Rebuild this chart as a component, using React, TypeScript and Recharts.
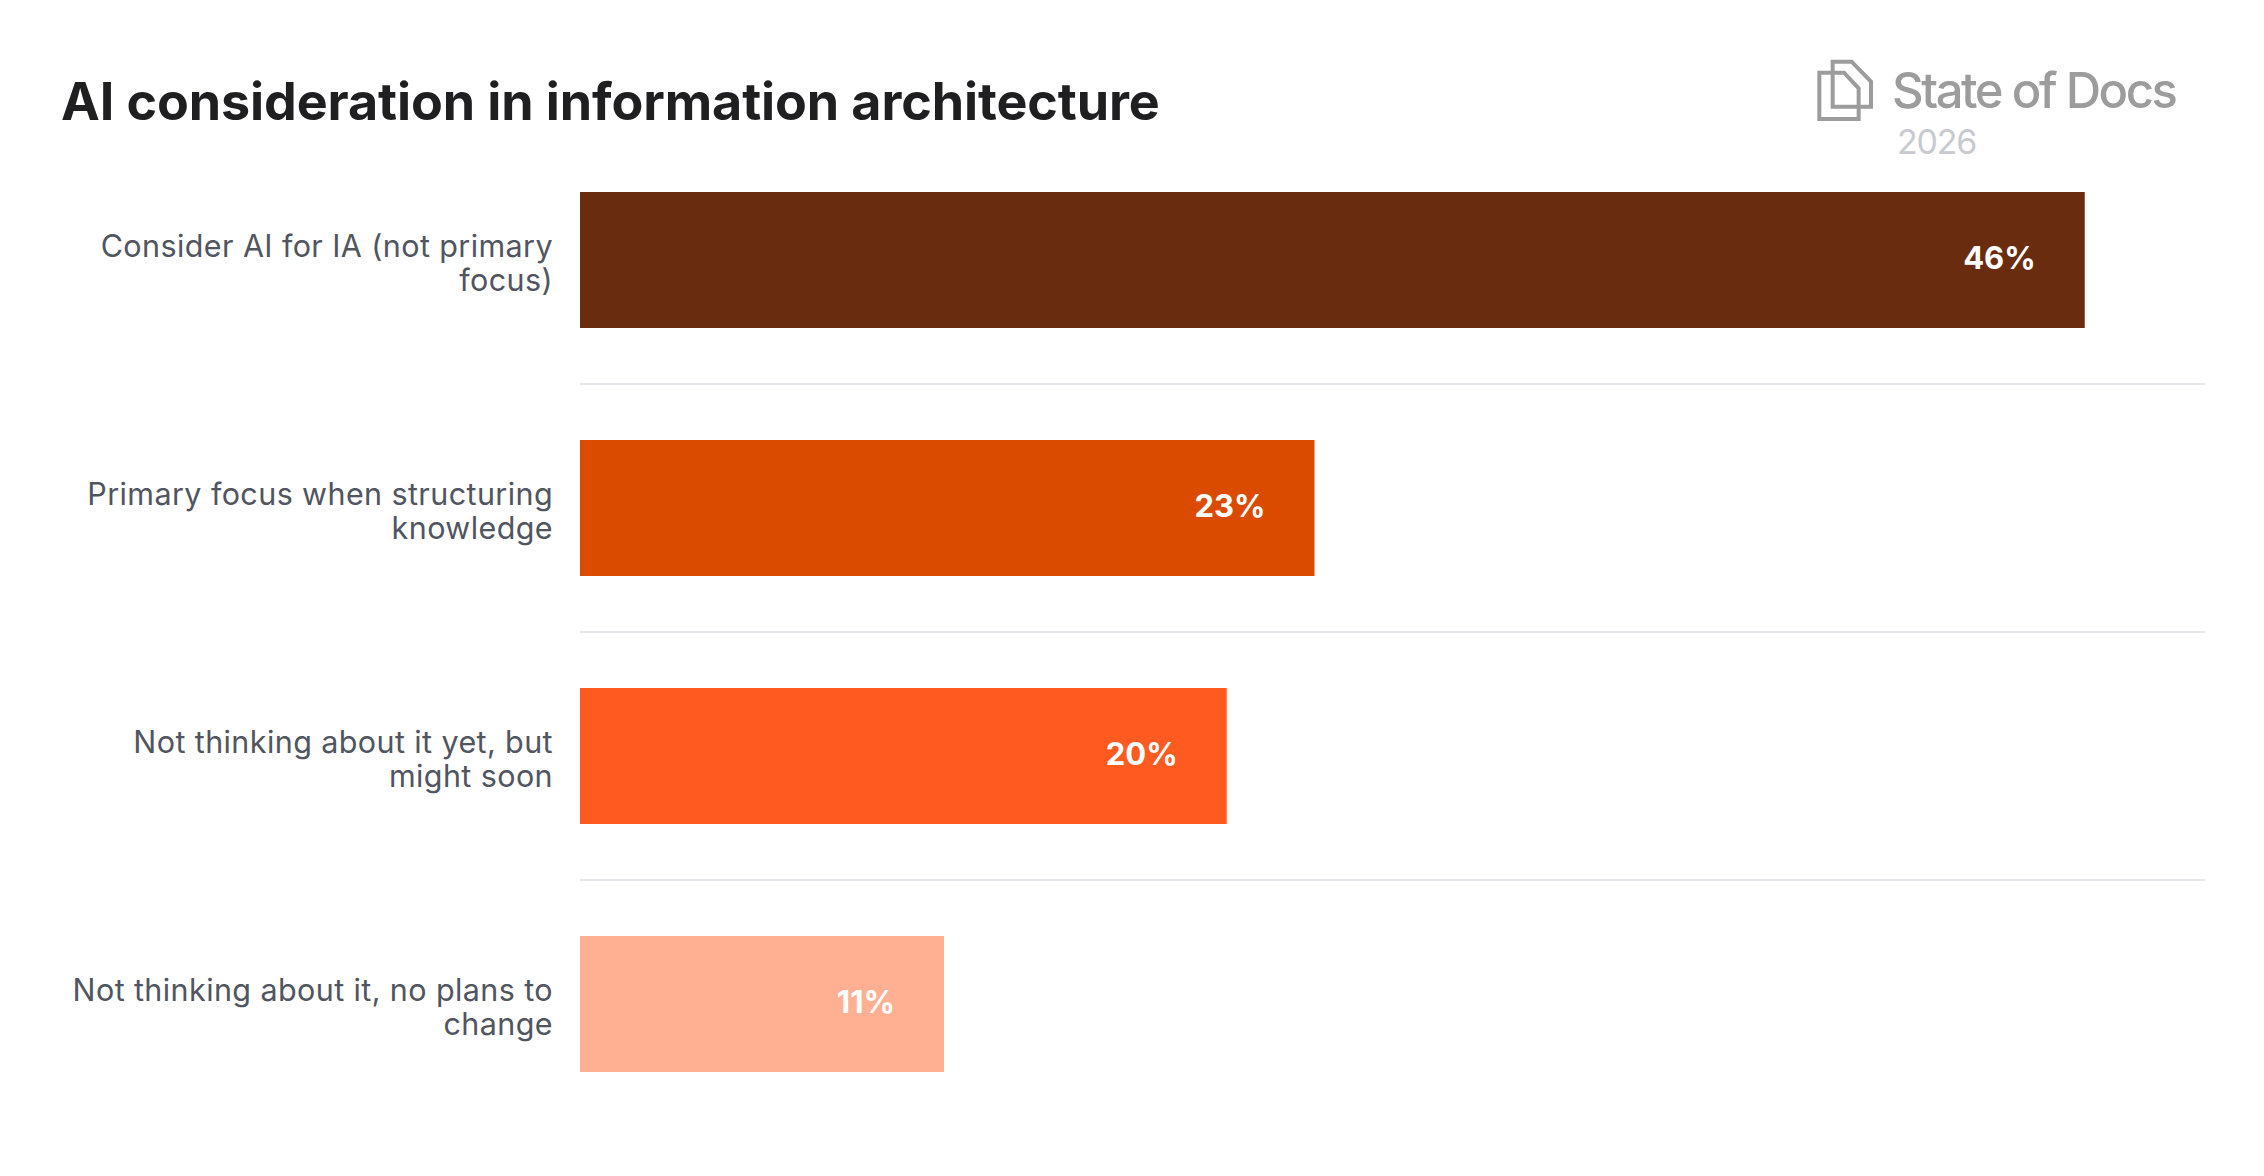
import React from "react";
import { BarChart, Bar, XAxis, YAxis, CartesianGrid, Cell, LabelList } from "recharts";

const categories = [
  "Consider AI for IA (not primary focus)",
  "Primary focus when structuring knowledge",
  "Not thinking about it yet, but might soon",
  "Not thinking about it, no plans to change",
];
const categoryLines = [
  ["Consider AI for IA (not primary", "focus)"],
  ["Primary focus when structuring", "knowledge"],
  ["Not thinking about it yet, but", "might soon"],
  ["Not thinking about it, no plans to", "change"],
];
const values = [46.3, 22.6, 19.9, 11.2];
const colors = ["#6a2c0f", "#da4b00", "#ff5a20", "#ffb092"];
const separators = [1, 2, 3];
const chartData = categories.map((name, i) => ({ name, value: values[i] }));
const FONT = "Inter, sans-serif";

const CategoryTick = (props: any) => {
  const { x, y, index } = props;
  return (
    <text x={x} y={y} textAnchor="end" fontFamily={FONT} fontSize={30.5} fill="#51555f" letterSpacing={0.4}>
      {categoryLines[index].map((line, i) => (
        <tspan key={i} x={x} y={y - 3 + i * 34}>
          {line}
        </tspan>
      ))}
    </text>
  );
};

const bandEdges = ({ offset }: any) =>
  separators.map((s) => offset.top + (s * offset.height) / categories.length);

export default function App() {
  return (
    <div style={{ position: "absolute", left: 0, top: 0, width: 2264, height: 1176, background: "#fff" }}>
      <BarChart
        width={2264}
        height={1176}
        data={chartData}
        layout="vertical"
        margin={{ top: 136, right: 59, bottom: 48, left: 0 }}
        barCategoryGap={56}
      >
        <CartesianGrid vertical={false} stroke="#e7e8ec" strokeWidth={2} horizontalCoordinatesGenerator={bandEdges} />
        <XAxis type="number" domain={[0, 50]} hide />
        <YAxis
          type="category"
          dataKey="name"
          width={580}
          axisLine={false}
          tickLine={false}
          tickMargin={0}
          tickSize={0}
          interval={0}
          tick={(p: any) => <CategoryTick {...p} x={553} />}
        />
        <Bar dataKey="value" isAnimationActive={false}>
          {chartData.map((d, i) => (
            <Cell key={d.name} fill={colors[i]} />
          ))}
          <LabelList
            dataKey="value"
            position="insideRight"
            offset={49}
            formatter={(v: any) => `${Math.round(v)}%`}
            fill="#ffffff"
            fontFamily={FONT}
            fontWeight={700}
            fontSize={31}
            dy={-2}
          />
        </Bar>
      </BarChart>
      <svg width={2264} height={1176} style={{ position: "absolute", left: 0, top: 0, pointerEvents: "none" }}>
        <text x={61} y={120} fontFamily={FONT} fontWeight={700} fontSize={52} fill="#1f1f21" letterSpacing={-0.1}>
          AI consideration in information architecture
        </text>
        <g transform="translate(1780 30) scale(0.3333)" fill="none" stroke="#9c9c9c" strokeWidth={12}>
          <path d="M158 95 L215 95 L273 155 L273 230 L158 230 Z" />
          <path d="M158 128 L118 128 L118 267 L236 267 L236 230" />
          <path d="M158 128 L192 128 L236 175 L236 230" />
        </g>
        <text x={1892} y={108} fontFamily={FONT} fontWeight={500} fontSize={49} fill="#9c9c9c" letterSpacing={-2.45}>
          State of Docs
        </text>
        <text x={1897} y={154} fontFamily={FONT} fontWeight={400} fontSize={34} fill="#c8cacf" letterSpacing={-1.2}>
          2026
        </text>
      </svg>
    </div>
  );
}
